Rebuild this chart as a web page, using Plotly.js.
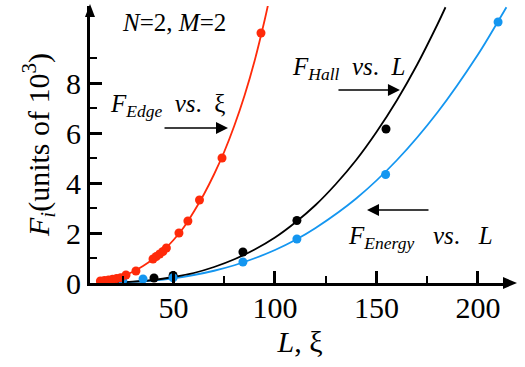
<!DOCTYPE html>
<html>
<head>
<meta charset="utf-8">
<script src="https://cdn.plot.ly/plotly-3.0.1.min.js"></script>
<style>html,body{margin:0;padding:0;background:#fff;}#chart{width:525px;height:367px;}</style>
</head>
<body>
<div id="chart"></div>
<script>
// Measured points: F_Edge vs ξ (red)
const xiEdge = [14, 16, 18, 20, 22, 24, 26.6, 31.5, 39.9, 41.5, 43.2, 44.8, 46.5, 52.7, 57.1, 62.8, 73.9, 93.1];
const FEdge  = [0.08, 0.1, 0.12, 0.15, 0.18, 0.21, 0.32, 0.48, 0.96, 1.06, 1.16, 1.26, 1.4, 2.0, 2.48, 3.32, 5.0, 10.0];
// Measured points: F_Hall vs L (black)
const LHall = [40.4, 49.8, 84.2, 110.8, 154.7];
const FHall = [0.2, 0.3, 1.24, 2.5, 6.16];
// Measured points: F_Energy vs L (blue)
const LEnergy = [25, 35, 49.8, 84.2, 110.8, 154.5, 209.9];
const FEnergy = [0.1, 0.16, 0.21, 0.84, 1.76, 4.34, 10.44];
// Fitted curves
const edgeCurveX = [12, 15, 20, 25, 30, 35, 40, 45, 50, 55, 60, 65, 70, 75, 80, 85, 90, 95, 96.5];
const edgeCurveY = [0.05, 0.1, 0.18, 0.28, 0.45, 0.68, 0.96, 1.3, 1.72, 2.22, 2.85, 3.55, 4.35, 5.25, 6.3, 7.5, 8.9, 10.55, 11.1];
const hallCurveX = [20, 30, 40, 50, 60, 70, 80, 90, 100, 110, 120, 130, 140, 150, 160, 170, 180, 184];
const hallCurveY = [0.016, 0.052, 0.12, 0.24, 0.4, 0.64, 0.95, 1.34, 1.82, 2.42, 3.12, 3.96, 4.92, 6.04, 7.3, 8.73, 10.34, 11.03];
const energyCurveX = [20, 30, 40, 50, 60, 70, 80, 90, 100, 110, 120, 140, 160, 180, 200, 210, 214];
const energyCurveY = [0.015, 0.046, 0.1, 0.19, 0.32, 0.49, 0.71, 0.99, 1.32, 1.72, 2.2, 3.38, 4.91, 6.82, 9.14, 10.48, 11.03];
// Ticks
const xTickVals = [50, 100, 150, 200];
const xTickText = ['50', '100', '150', '200'];
const xMinorVals = [25, 75, 125, 175];
const yTickVals = [0, 2, 4, 6, 8];
const yTickText = ['0', '2', '4', '6', '8'];
const yMinorVals = [1, 3, 5, 7, 9];

const RED = '#ff2a0a', BLACK = '#000000', BLUE = '#1496f0';
const SERIF = 'Liberation Serif';

const traces = [
  {x: energyCurveX, y: energyCurveY, mode: 'lines', line: {color: BLUE, width: 1.8, shape: 'spline'}, hoverinfo: 'skip'},
  {x: hallCurveX, y: hallCurveY, mode: 'lines', line: {color: BLACK, width: 1.8, shape: 'spline'}, hoverinfo: 'skip'},
  {x: edgeCurveX, y: edgeCurveY, mode: 'lines', line: {color: RED, width: 1.8, shape: 'spline'}, hoverinfo: 'skip'},
  {x: LHall, y: FHall, mode: 'markers', marker: {color: BLACK, size: 9}},
  {x: LEnergy, y: FEnergy, mode: 'markers', marker: {color: BLUE, size: 9}},
  {x: xiEdge, y: FEdge, mode: 'markers', marker: {color: RED, size: 9}}
];

const annFont = {family: SERIF, size: 25, color: '#000'};
const layout = {
  width: 525, height: 367,
  margin: {l: 90, r: 15, t: 6, b: 84},
  paper_bgcolor: '#fff', plot_bgcolor: '#fff',
  showlegend: false,
  font: {family: SERIF, size: 30, color: '#000'},
  xaxis: {
    range: [8.87, 215.77], showgrid: false, zeroline: false,
    showline: true, linewidth: 3, linecolor: '#000',
    ticks: 'inside', ticklen: 12, tickwidth: 3, tickcolor: '#000',
    tickvals: xTickVals, ticktext: xTickText, ticklabelstandoff: -4,
    tickfont: {family: SERIF, size: 30, color: '#000'},
    minor: {tickvals: xMinorVals, ticks: 'inside', ticklen: 7, tickwidth: 2, tickcolor: '#000'},
    title: {text: '<i>L</i>, ξ', font: {family: SERIF, size: 30, color: '#000'}, standoff: 8}
  },
  yaxis: {
    range: [0, 11.08], showgrid: false, zeroline: false,
    showline: true, linewidth: 3, linecolor: '#000',
    ticks: 'inside', ticklen: 12, tickwidth: 3, tickcolor: '#000',
    tickvals: yTickVals, ticktext: yTickText,
    tickfont: {family: SERIF, size: 30, color: '#000'},
    minor: {tickvals: yMinorVals, ticks: 'inside', ticklen: 7, tickwidth: 2, tickcolor: '#000'},
    title: {text: '<i>F</i><sub><i>i</i></sub>(units of 10<sup>3</sup>)', font: {family: SERIF, size: 30, color: '#000'}, standoff: 8}
  },
  shapes: [
    {type: 'path', xref: 'paper', yref: 'paper', path: 'M 0.9833 -0.0217 L 1.0167 0 L 0.9833 0.0217 Z', fillcolor: '#000', line: {width: 0}},
    {type: 'path', xref: 'paper', yref: 'paper', path: 'M -0.0119 0.9603 L 0 1.0072 L 0.0119 0.9603 Z', fillcolor: '#000', line: {width: 0}}
  ],
  annotations: [
    {xref: 'paper', yref: 'paper', x: 0.2, y: 0.942, text: '<i>N</i>=2, <i>M</i>=2', showarrow: false, font: annFont, xanchor: 'center', yanchor: 'middle'},
    {xref: 'paper', yref: 'paper', x: 0.1845, y: 0.639, text: '<i>F</i><sub><i>Edge</i></sub>  <i>vs</i>.  ξ', showarrow: false, font: annFont, xanchor: 'center', yanchor: 'middle'},
    {xref: 'paper', yref: 'paper', x: 0.6155, y: 0.776, text: '<i>F</i><sub><i>Hall</i></sub>  <i>vs</i>.  <i>L</i>', showarrow: false, font: annFont, xanchor: 'center', yanchor: 'middle'},
    {xref: 'paper', yref: 'paper', x: 0.788, y: 0.166, text: '<i>F</i><sub><i>Energy</i></sub>   <i>vs</i>.   <i>L</i>', showarrow: false, font: annFont, xanchor: 'center', yanchor: 'middle'},
    {xref: 'paper', yref: 'paper', x: 0.3286, y: 0.5596, ax: -65, ay: 0, text: '', showarrow: true, arrowhead: 2, arrowsize: 1.6, arrowwidth: 1.5, arrowcolor: '#000'},
    {xref: 'paper', yref: 'paper', x: 0.738, y: 0.6968, ax: -63, ay: 0, text: '', showarrow: true, arrowhead: 2, arrowsize: 1.6, arrowwidth: 1.5, arrowcolor: '#000'},
    {xref: 'paper', yref: 'paper', x: 0.6595, y: 0.2635, ax: 63, ay: 0, text: '', showarrow: true, arrowhead: 2, arrowsize: 1.6, arrowwidth: 1.5, arrowcolor: '#000'}
  ]
};

Plotly.newPlot('chart', traces, layout, {displayModeBar: false, staticPlot: true});
</script>
</body>
</html>
